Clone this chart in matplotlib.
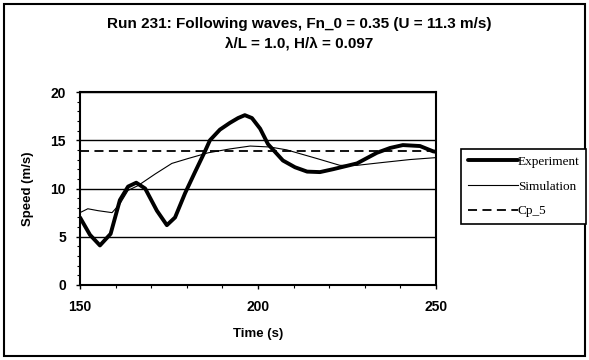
import numpy as np
import matplotlib
matplotlib.use("Agg")
import matplotlib.pyplot as plt
from matplotlib.patches import Rectangle

# values
exp_t = [150, 152.8, 155.6, 158.6, 161.2, 163.5, 165.8, 168.3, 171.6, 174.4,
         176.7, 179.5, 182.3, 185.1, 186.5, 189.3, 192.1, 194.4, 196.3, 198.3,
         200.6, 202.8, 207.0, 210.4, 213.8, 217.4, 221.1, 227.8, 233.4, 237.1,
         240.7, 245.5, 249.2, 250]
exp_v = [7.0, 5.2, 4.1, 5.3, 8.8, 10.2, 10.6, 10.0, 7.7, 6.2,
         7.0, 9.5, 11.7, 13.85, 15.0, 16.1, 16.8, 17.3, 17.6, 17.3,
         16.2, 14.6, 12.9, 12.2, 11.75, 11.7, 12.0, 12.6, 13.7, 14.2,
         14.5, 14.4, 13.85, 13.8]

sim_t = [150, 152.2, 155.1, 159.0, 161.2, 163.5, 166.3, 171.1, 175.8, 180.3,
         186.0, 192.1, 197.8, 203.4, 208.1, 216.6, 223.0, 227.8, 235.1, 242.7,
         250]
sim_v = [7.5, 7.9, 7.7, 7.5, 8.4, 9.8, 10.3, 11.5, 12.6, 13.1,
         13.7, 14.1, 14.4, 14.3, 14.0, 13.1, 12.4, 12.4, 12.7, 13.0,
         13.2]

cp5_t = [150, 250]
cp5_v = [13.85, 13.85]

x_ticks = [150, 200, 250]
y_ticks = [0, 5, 10, 15, 20]

fig = plt.figure(figsize=(5.89, 3.60), dpi=100)
ax = fig.add_axes([80 / 589, 1 - 285 / 360, 356 / 589, 193 / 360])

ax.plot(exp_t, exp_v, color="black", lw=2.8, label="Experiment",
        solid_capstyle="round", solid_joinstyle="round")
ax.plot(sim_t, sim_v, color="black", lw=0.8, label="Simulation",
        solid_joinstyle="round")
ax.plot(cp5_t, cp5_v, color="black", lw=1.3, ls=(0, (5, 3)), label="Cp_5")

ax.set_xlim(150, 250)
ax.set_ylim(0, 20)
ax.set_xticks(x_ticks)
ax.set_yticks(y_ticks)
ax.set_xticks(np.arange(150, 251, 10), minor=True)
ax.set_yticks(np.arange(0, 21, 1), minor=True)
ax.tick_params(which="major", direction="out", length=3, width=1)
ax.tick_params(which="minor", direction="out", length=2, width=0.8)
ax.tick_params(axis="x", pad=8)
ax.tick_params(axis="y", pad=7)
for lab in ax.get_xticklabels() + ax.get_yticklabels():
    lab.set_fontweight("bold")
    lab.set_fontsize(10)
    lab.set_family("Liberation Sans")

ax.yaxis.grid(True, color="black", lw=1.0)
ax.set_axisbelow(True)
for s in ax.spines.values():
    s.set_linewidth(1.5)

ax.set_xlabel("Time (s)", fontsize=9.5, fontweight="bold", family="Liberation Sans", labelpad=10)
ax.set_ylabel("Speed (m/s)", fontsize=9.5, fontweight="bold", family="Liberation Sans", labelpad=12)

fig.text(299 / 589, 1 - 24 / 360, "Run 231: Following waves, Fn_0 = 0.35 (U = 11.3 m/s)",
         ha="center", va="center", fontsize=11, fontweight="bold", family="Liberation Sans")
fig.text(299 / 589, 1 - 44 / 360, "λ/L = 1.0, H/λ = 0.097",
         ha="center", va="center", fontsize=11, fontweight="bold", family="Liberation Sans")

leg = fig.legend(loc="upper left", bbox_to_anchor=(461 / 589, 1 - 149 / 360),
                 prop={"family": "Liberation Serif", "size": 9.5},
                 handlelength=3.8, handletextpad=0.0, borderpad=0.5,
                 labelspacing=0.95, fancybox=False, framealpha=1,
                 edgecolor="black", borderaxespad=0)
leg.get_frame().set_linewidth(1.2)

fig.patches.append(Rectangle((4 / 589, 4 / 360), 581 / 589, 352 / 360,
                             transform=fig.transFigure, fill=False,
                             edgecolor="black", lw=1.5))

fig.savefig("out.png", dpi=100)
